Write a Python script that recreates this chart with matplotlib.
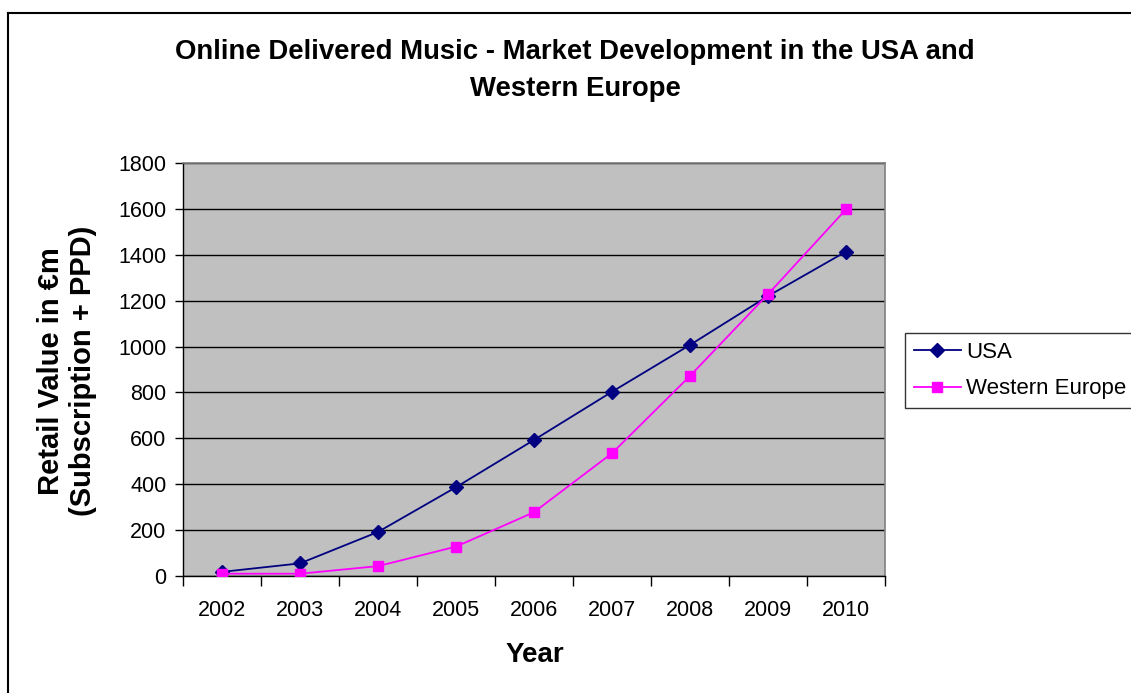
import matplotlib
matplotlib.use("Agg")
from matplotlib import pyplot as plt
from matplotlib.lines import Line2D

years = ['2002', '2003', '2004', '2005', '2006', '2007', '2008', '2009', '2010']
usa = [18, 55, 192, 387, 593, 803, 1007, 1220, 1414]
western_europe = [10, 10, 43, 128, 278, 535, 872, 1228, 1598]
y_ticks = list(range(0, 2000, 200))

plt.rcParams['font.family'] = ['Liberation Sans', 'DejaVu Sans']

fig = plt.figure(figsize=(11.31, 6.93), dpi=100)
ax = fig.add_axes([183/1131, 117/693, 702/1131, 413/693])
ax.set_facecolor('#C0C0C0')

x = range(len(years))
ax.plot(x, usa, color='#000080', marker='D', markersize=7, lw=1.3, label='USA', zorder=3)
ax.plot(x, western_europe, color='#FF00FF', marker='s', markersize=7.5, lw=1.3,
        label='Western Europe', zorder=3)

ax.set_xlim(-0.5, len(years) - 0.5)
ax.set_ylim(0, 1800)
ax.set_yticks(y_ticks)
ax.set_xticks(x)
ax.set_xticklabels(years)
ax.set_xticks([i - 0.5 for i in range(len(years) + 1)], minor=True)
ax.tick_params(axis='x', which='major', length=0, labelsize=15.5, pad=17)
ax.tick_params(axis='x', which='minor', length=7, width=1, color='black', direction='out')
ax.tick_params(axis='y', length=6, width=1, labelsize=15.5, pad=6, direction='out')
ax.yaxis.grid(True, color='black', lw=1)
ax.set_axisbelow(True)

for s in ['top', 'right']:
    ax.spines[s].set_color('#808080')
    ax.spines[s].set_linewidth(1.2)
for s in ['left', 'bottom']:
    ax.spines[s].set_color('black')
    ax.spines[s].set_linewidth(1)

fig.text(575/1131, 1 - 52/693, 'Online Delivered Music - Market Development in the USA and',
         ha='center', va='center', fontsize=19.8, fontweight='bold')
fig.text(575/1131, 1 - 89/693, 'Western Europe',
         ha='center', va='center', fontsize=19.8, fontweight='bold')
fig.text(535/1131, 1 - 655/693, 'Year', ha='center', va='center', fontsize=20, fontweight='bold')
fig.text(67/1131, 1 - 371/693, 'Retail Value in €m\n(Subscription + PPD)', ha='center', va='center',
         rotation=90, fontsize=21, fontweight='bold', linespacing=1.15)

leg = fig.legend(loc='upper left', bbox_to_anchor=(905/1131, 1 - 333/693),
                 fontsize=16, frameon=True, fancybox=False, borderpad=0.4,
                 handlelength=2.1, handletextpad=0.25, labelspacing=0.7, borderaxespad=0)
leg.get_frame().set_edgecolor('black')
leg.get_frame().set_linewidth(1)

fig.add_artist(Line2D([8/1131, 1], [1 - 12.5/693, 1 - 12.5/693], color='black', lw=1.5,
                      transform=fig.transFigure))
fig.add_artist(Line2D([8/1131, 8/1131], [0, 1 - 12.5/693], color='black', lw=1.5,
                      transform=fig.transFigure))

plt.savefig('out.png', dpi=100)
